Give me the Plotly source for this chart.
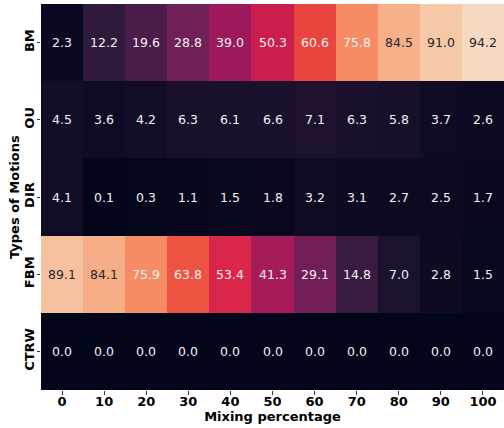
import plotly.graph_objects as go

mixing = ["0", "10", "20", "30", "40", "50", "60", "70", "80", "90", "100"]
motions = ["BM", "OU", "DIR", "FBM", "CTRW"]

bm = [2.3, 12.2, 19.6, 28.8, 39.0, 50.3, 60.6, 75.8, 84.5, 91.0, 94.2]
ou = [4.5, 3.6, 4.2, 6.3, 6.1, 6.6, 7.1, 6.3, 5.8, 3.7, 2.6]
dirm = [4.1, 0.1, 0.3, 1.1, 1.5, 1.8, 3.2, 3.1, 2.7, 2.5, 1.7]
fbm = [89.1, 84.1, 75.9, 63.8, 53.4, 41.3, 29.1, 14.8, 7.0, 2.8, 1.5]
ctrw = [0.0] * 11

z = [bm, ou, dirm, fbm, ctrw]

# colour-scale range (percentages)
zmin, zmax = 0.0, 100.0

rocket = [
    [0.0, "#03051A"],
    [0.122, "#2F1A3D"],
    [0.196, "#4C1D4B"],
    [0.288, "#711F57"],
    [0.39, "#9C1A5B"],
    [0.503, "#CC1D4F"],
    [0.534, "#DA2649"],
    [0.606, "#E9443F"],
    [0.638, "#EE5240"],
    [0.714, "#F37651"],
    [0.758, "#F58C64"],
    [0.845, "#F5B08A"],
    [0.91, "#F6C8A8"],
    [0.942, "#F7D8C0"],
    [1.0, "#FAEBDD"],
]

xi = list(range(len(mixing)))
yi = list(range(len(motions)))

fig = go.Figure(go.Heatmap(
    z=z, x=xi, y=yi, colorscale=rocket, zmin=zmin, zmax=zmax,
    showscale=False, xgap=0, ygap=0, hoverinfo="skip",
))

annos = []
for i, row in enumerate(z):
    for j, v in enumerate(row):
        frac = (v - zmin) / (zmax - zmin)
        col = "#262626" if frac > 0.8 else "#F2F2F2"
        annos.append(dict(x=xi[j], y=yi[i], text=f"{v:.1f}", showarrow=False,
                          font=dict(family="DejaVu Sans", size=12.5, color=col)))

annos.append(dict(x=0, xref="paper", y=0.5, yref="paper", xanchor="center", yanchor="middle",
                  xshift=-27, textangle=-90, showarrow=False, text="<b>Types of Motions</b>",
                  font=dict(family="DejaVu Sans", size=13, color="#000")))

fig.update_layout(
    width=504, height=428,
    margin=dict(l=41, r=0, t=4, b=38),
    paper_bgcolor="white", plot_bgcolor="white",
    annotations=annos,
    font=dict(family="DejaVu Sans", color="#000000"),
)
fig.update_xaxes(
    range=[-0.5, len(mixing) - 0.5], tickmode="array", tickvals=xi, ticktext=mixing,
    tickangle=0, showgrid=False, zeroline=False, showline=False,
    ticks="outside", ticklen=3.5, tickwidth=0.8, tickcolor="#333",
    ticklabelstandoff=-4,
    tickfont=dict(family="DejaVu Sans", size=13, color="#000", weight="bold"),
    title=dict(text="<b>Mixing percentage</b>", font=dict(family="DejaVu Sans", size=13), standoff=0),
)
fig.update_yaxes(
    range=[len(motions) - 0.5, -0.5], tickmode="array", tickvals=yi, ticktext=motions,
    showgrid=False, zeroline=False, showline=False,
    ticks="outside", ticklen=3.5, tickwidth=0.8, tickcolor="#333", tickangle=-90,
    ticklabelstandoff=-3,
    tickfont=dict(family="DejaVu Sans", size=13, color="#000", weight="bold"),
)

fig.write_html("out.html", config={"displayModeBar": False},
               post_script="document.body.style.margin='0';document.body.style.overflow='hidden';")
